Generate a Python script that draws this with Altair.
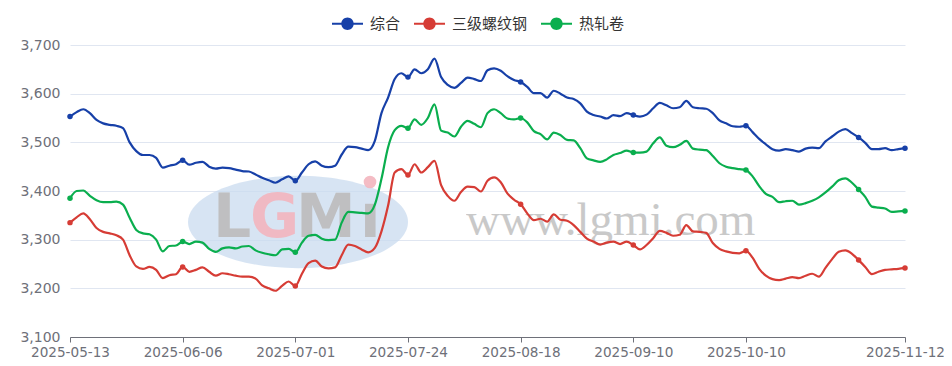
import altair as alt
import pandas as pd

# ---- categories: working days shown on the axis ----
holidays = ["2025-06-02", "2025-10-01", "2025-10-02", "2025-10-03",
            "2025-10-06", "2025-10-07", "2025-10-08"]
extra_days = ["2025-09-28", "2025-10-11"]
dates = sorted([d.strftime("%Y-%m-%d") for d in pd.bdate_range("2025-05-13", "2025-11-12")
                if d.strftime("%Y-%m-%d") not in holidays] + extra_days)

label_dates = ["2025-05-13", "2025-06-06", "2025-07-01", "2025-07-24",
               "2025-08-18", "2025-09-10", "2025-10-10", "2025-11-12"]

series_names = ["综合", "三级螺纹钢", "热轧卷"]
series_colors = ["#1740a8", "#d63c35", "#0aae4e"]

composite = [
    3553, 3562, 3568, 3560, 3546, 3539, 3536, 3534, 3529, 3500,
    3482, 3474, 3474, 3468, 3448, 3452, 3455, 3463, 3454, 3458,
    3460, 3450, 3446, 3448, 3447, 3444, 3441, 3440, 3434, 3427,
    3422, 3417, 3424, 3430, 3421, 3438, 3455, 3461, 3452, 3449,
    3452, 3475, 3491, 3490, 3487, 3484, 3503, 3560, 3592, 3630,
    3642, 3634, 3650, 3642, 3650, 3672, 3634, 3618, 3612, 3622,
    3633, 3630, 3626, 3648, 3652, 3647, 3636, 3628, 3624, 3614,
    3601, 3601, 3592, 3606, 3600, 3592, 3589, 3580, 3563, 3556,
    3553, 3549, 3556, 3554, 3560, 3556, 3553, 3557, 3570, 3581,
    3576, 3570, 3572, 3585, 3572, 3570, 3569, 3560, 3545, 3539,
    3533, 3532, 3534, 3521, 3507, 3496, 3486, 3483, 3486, 3484,
    3481, 3487, 3489, 3488, 3502, 3512, 3522, 3527, 3519, 3510,
    3499, 3486, 3486, 3488, 3484, 3486, 3488,
]

rebar = [
    3335, 3346, 3354, 3342, 3324, 3316, 3313, 3309, 3300, 3268,
    3245, 3240, 3244, 3238, 3221, 3227, 3229, 3244, 3234, 3238,
    3243, 3234, 3226, 3231, 3229, 3226, 3224, 3224, 3220, 3206,
    3200, 3195, 3205, 3214, 3205, 3230, 3252, 3257, 3245, 3241,
    3243, 3268, 3290, 3287, 3280, 3274, 3283, 3317, 3370, 3438,
    3445, 3433, 3455, 3438, 3449, 3462, 3412, 3390, 3380, 3398,
    3409, 3408, 3399, 3421, 3428, 3418, 3395, 3382, 3373, 3354,
    3340, 3343, 3337, 3352, 3341, 3339, 3330, 3316, 3302, 3296,
    3290, 3294, 3296, 3291, 3296, 3289, 3280, 3289, 3303, 3318,
    3314, 3308, 3310, 3330, 3317, 3316, 3314, 3293, 3281, 3276,
    3273, 3272, 3277, 3263, 3240, 3226, 3219, 3217, 3220, 3223,
    3221, 3226, 3230, 3224, 3242, 3260, 3275, 3278, 3271, 3258,
    3244, 3229, 3234, 3238, 3239, 3240, 3242,
]

hot_rolled = [
    3385, 3400, 3401, 3390, 3381, 3377, 3377, 3378, 3372, 3345,
    3320, 3313, 3311, 3300, 3276, 3287, 3288, 3296, 3291, 3296,
    3294, 3281, 3275, 3282, 3284, 3282, 3286, 3287, 3278, 3273,
    3270, 3268, 3280, 3281, 3274, 3294, 3308, 3310, 3302, 3299,
    3300, 3335, 3357, 3356, 3355, 3354, 3372, 3425, 3490, 3525,
    3534, 3529, 3547, 3536, 3550, 3578, 3524, 3520, 3512, 3532,
    3544, 3538, 3531, 3560, 3568, 3560, 3549, 3547, 3550, 3541,
    3523, 3517, 3506, 3520, 3515, 3505, 3504, 3488, 3467, 3463,
    3460, 3465, 3474, 3478, 3483, 3479, 3479, 3481, 3498, 3510,
    3493, 3490, 3495, 3503, 3487, 3485, 3484, 3472, 3457, 3450,
    3447, 3445, 3443, 3430, 3410, 3394, 3388, 3377, 3379, 3380,
    3372, 3375, 3380, 3387, 3397, 3409, 3422, 3426, 3417, 3403,
    3388, 3368, 3366, 3364, 3357, 3358, 3359,
]

y_ticks = [3100, 3200, 3300, 3400, 3500, 3600, 3700]

# ---- table built from the arrays ----
marker_idx = set(list(range(0, len(dates), 17)) + [len(dates) - 1])
rows = []
for name, vals in zip(series_names, [composite, rebar, hot_rolled]):
    for i, (d, v) in enumerate(zip(dates, vals)):
        rows.append({"date": d, "series": name, "value": v, "marker": i in marker_idx})
df = pd.DataFrame(rows)

legend_path = ("M -1 -0.07 L 1 -0.07 L 1 0.07 L -1 0.07 Z "
               "M 0.4 0 A 0.4 0.4 0 1 1 -0.4 0 A 0.4 0.4 0 1 1 0.4 0 Z")

color = alt.Color(
    "series:N",
    scale=alt.Scale(domain=series_names, range=series_colors),
    sort=series_names,
    legend=alt.Legend(
        title=None, orient="none", direction="horizontal",
        legendX=262, legendY=-37,
        symbolType=legend_path, symbolSize=961, symbolStrokeWidth=0,
        symbolOpacity=1,
        labelFont="Noto Sans CJK SC", labelFontSize=15, labelColor="#333333",
        labelOffset=7, columnPadding=13,
    ),
)

x = alt.X(
    "date:O",
    scale=alt.Scale(type="point", padding=0),
    axis=alt.Axis(
        values=label_dates, labelAngle=0, title=None, grid=False,
        domainColor="#6e7079", tickColor="#6e7079", tickSize=5,
        labelColor="#6e7079", labelFont="DejaVu Sans", labelFontSize=13.6,
        labelPadding=3, labelOverlap=False, labelFlush=False,
    ),
)
y = alt.Y(
    "value:Q",
    scale=alt.Scale(domain=[3100, 3700], nice=False, zero=False),
    axis=alt.Axis(
        values=y_ticks, format=",.0f", title=None, domain=False, ticks=False,
        gridColor="#e0e6f1", gridWidth=1,
        labelColor="#6e7079", labelFont="DejaVu Sans", labelFontSize=14,
        labelPadding=10,
    ),
)

# ---- watermark (decorative, pixel-placed) ----
wm = pd.DataFrame({"k": [0]})
ellipse = alt.Chart(wm).mark_point(
    shape="M -1 0 A 1 0.42 0 1 0 1 0 A 1 0.42 0 1 0 -1 0 Z",
    filled=True, color="#c9dbef", opacity=0.75, size=48400, strokeWidth=0,
).encode(x=alt.value(228), y=alt.value(177))

def wm_text(txt, px, py, col, size, font="DejaVu Sans", weight="bold"):
    return alt.Chart(wm).mark_text(
        text=txt, align="left", baseline="alphabetic", font=font,
        fontSize=size, fontWeight=weight, color=col, opacity=0.9,
    ).encode(x=alt.value(px), y=alt.value(py))

logo_L = wm_text("L", 143, 192, "#bdbcbc", 60)
logo_G = wm_text("G", 180, 192, "#f3b5be", 60)
logo_M = wm_text("M", 226, 192, "#bdbcbc", 60)
logo_i = wm_text("ı", 290, 192, "#bdbcbc", 60)
logo_dot = alt.Chart(wm).mark_point(
    shape="circle", filled=True, color="#f3b5be", size=160, opacity=0.9
).encode(x=alt.value(300), y=alt.value(137))
site = wm_text("www.lgmi.com", 396, 190, "#c4c4c4", 47,
               font="Liberation Serif", weight="normal")

lines = alt.Chart(df).mark_line(strokeWidth=2.2, interpolate="monotone").encode(
    x=x, y=y, color=color
)
points = alt.Chart(df).transform_filter("datum.marker").mark_point(
    filled=True, size=30, opacity=1
).encode(x=x, y=y, color=color)

chart = alt.layer(
    ellipse, logo_L, logo_G, logo_M, logo_i, logo_dot, site, lines, points
).properties(
    width=835, height=292,
    autosize=alt.AutoSizeParams(type="none"),
    padding={"left": 62, "top": 37, "right": 39, "bottom": 21},
    background="white",
).configure_view(stroke=None)

chart.save("out.html", embed_options={"renderer": "svg", "actions": False})
